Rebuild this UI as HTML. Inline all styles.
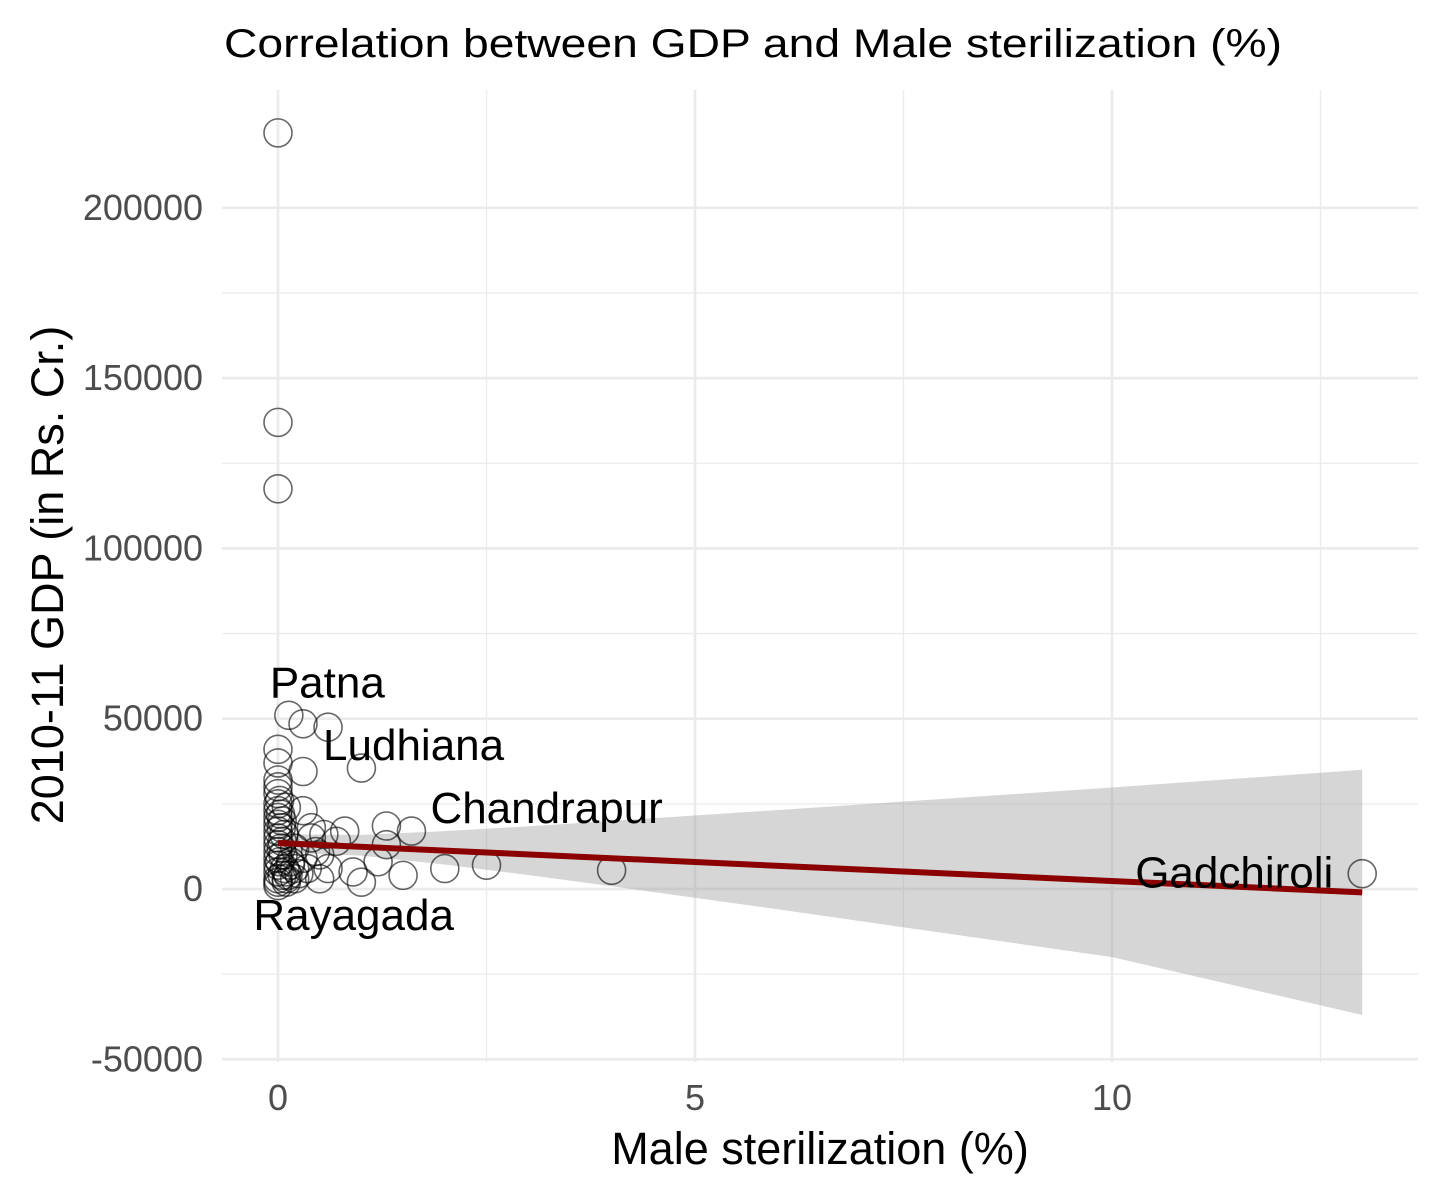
<!DOCTYPE html>
<html><head><meta charset="utf-8"><style>
body{margin:0;background:#fff}
svg{display:block;font-family:"Liberation Sans",sans-serif}
</style></head><body>
<svg id="chart" width="1440" height="1195" viewBox="0 0 1440 1195">
<text x="224" y="57" font-size="40" textLength="1058" lengthAdjust="spacingAndGlyphs" fill="#000">Correlation between GDP and Male sterilization (%)</text>
<g id="grid"></g><g id="ribbon"></g><g id="pts"></g><g id="fit"></g><g id="labels"></g><g id="ticks"></g>
<text x="820" y="1164" font-size="45" text-anchor="middle" fill="#000">Male sterilization (%)</text>
<text transform="translate(63,575) rotate(-90)" font-size="45" text-anchor="middle" fill="#000">2010-11 GDP (in Rs. Cr.)</text>
</svg>
<script>
const xTicks=[0,5,10];
const yTicks=[-50000,0,50000,100000,150000,200000];
const ptsX=[0,0,0,0,0,0,0,0,0,0,0,0,0,0,0,0,0,0,0,0,0,0,0.13,0.3,0.6,0.3,1.0,0.3,0.8,1.3,1.6,1.3,1.2,2.0,2.5,4.0,13,1.5,1.0,0.9,0.6,0.5,0.5,0.4,0.2,0.15,0.1,0.05,0.1,0.2,0.3,0.05,0.1,0.7,0.4,0.25,0.02,0.03,0.04,0.05,0.06,0.08,0.1,0.12,0.02,0.04,0.07,0.15,0.2,0.35,0.45,0.55];
const ptsY=[222000,137000,117500,41000,37000,32000,30000,28000,25000,23000,21000,19000,17000,15000,13000,11000,9000,7000,5000,3000,2000,1000,51000,48500,47500,34500,35500,23000,17000,18500,17000,13000,8000,6000,7000,5500,4500,4000,2000,5000,6000,10000,3000,15000,12000,8000,5000,4000,3000,6000,9000,20000,24000,14000,18000,4500,26000,22000,18000,14000,10000,6000,2000,4000,8000,12000,16000,7000,3000,6000,11000,16000];
const labelNames=["Patna","Ludhiana","Chandrapur","Gadchiroli","Rayagada"];
const labelX=[0.13,0.6,1.6,13,0.1];
const labelY=[51000,47500,17000,4500,2000];
const fitX=[0,13];
const fitY=[13500,-1000];
const ribX=[0,0.3,1,2,3,4,6,8,10,13];
const ribHi=[16500,16000,15900,17000,18400,20000,23200,26500,29800,35000];
const ribLo=[10700,10500,9800,7200,4100,800,-6000,-13000,-20000,-37000];
const NS="http://www.w3.org/2000/svg";
const X=v=>278+v*83.4, Y=v=>889-v*0.003406;
function mk(tag,a,p){const e=document.createElementNS(NS,tag);for(const k in a)e.setAttribute(k,a[k]);p.appendChild(e);return e;}
const g=document.getElementById('grid');
[-25000,25000,75000,125000,175000].forEach(v=>{const l=mk('line',{x1:222,x2:1418,y1:Y(v),y2:Y(v),stroke:'#ebebeb','stroke-width':1.3},g);

});
[2.5,7.5,12.5].forEach(v=>{const l=mk('line',{x1:X(v),x2:X(v),y1:90,y2:1062,stroke:'#ebebeb','stroke-width':1.3},g);

});
const tk=document.getElementById('ticks');
yTicks.forEach(v=>{const l=mk('line',{x1:222,x2:1418,y1:Y(v),y2:Y(v),stroke:'#ebebeb','stroke-width':2.7},g);


const t=mk('text',{x:203,y:Y(v)+12,'text-anchor':'end','font-size':36,fill:'#4d4d4d'},tk);t.textContent=v;

});
xTicks.forEach(v=>{const l=mk('line',{x1:X(v),x2:X(v),y1:90,y2:1062,stroke:'#ebebeb','stroke-width':2.7},g);


const t=mk('text',{x:X(v),y:1110,'text-anchor':'middle','font-size':36,fill:'#4d4d4d'},tk);t.textContent=v;

});
let d='M'+ribX.map((x,i)=>X(x)+','+Y(ribHi[i])).join('L');
for(let i=ribX.length-1;i>=0;i--)d+='L'+X(ribX[i])+','+Y(ribLo[i]);
const rb=mk('path',{d:d+'Z',fill:'#999',opacity:0.4},document.getElementById('ribbon'));


const pg=document.getElementById('pts');
ptsX.forEach((x,i)=>{const c=mk('circle',{cx:X(x),cy:Y(ptsY[i]),r:14,fill:'none',stroke:'#000','stroke-opacity':0.6,'stroke-width':1.6},pg);

});
const fl=mk('line',{x1:X(fitX[0]),y1:Y(fitY[0]),x2:X(fitX[1]),y2:Y(fitY[1]),stroke:'#8b0000','stroke-width':6},document.getElementById('fit'));


const lg=document.getElementById('labels');
const off=[[-19,-18],[-5,33],[19,-8],[-227,14],[-33,48]];
labelNames.forEach((n,i)=>{const t=mk('text',{x:X(labelX[i])+off[i][0],y:Y(labelY[i])+off[i][1],'font-size':44,fill:'#000'},lg);
t.textContent=n;

});
</script>
</body></html>
